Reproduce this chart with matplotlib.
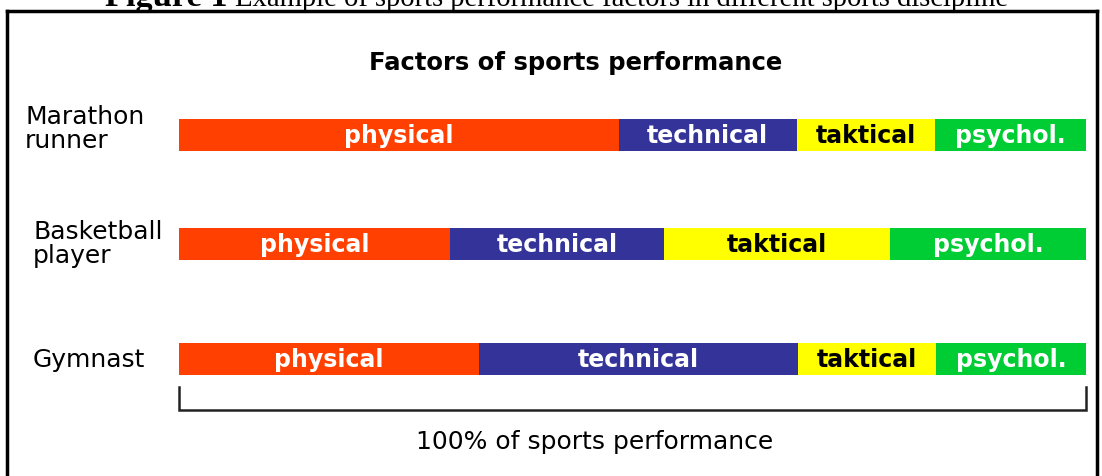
import matplotlib
matplotlib.use("Agg")
import matplotlib.pyplot as plt
from matplotlib.lines import Line2D
import numpy as np

# data (share of performance, %)
sports = ["Marathon\nrunner", "Basketball\nplayer", "Gymnast"]
factors = ["physical", "technical", "taktical", "psychol."]
physical = [48.5, 29.9, 33.1]
technical = [19.6, 23.6, 35.1]
taktical = [15.3, 24.9, 15.3]
psychol = [16.6, 21.6, 16.5]

colors = ["#FF4000", "#333399", "#FFFF00", "#00CC33"]
text_colors = ["white", "white", "black", "white"]

W, H = 1102, 477
fig = plt.figure(figsize=(W / 100, H / 100), dpi=100)
fig.patch.set_facecolor("white")

# axes: x in percent, y in pixel rows of the figure
ax = fig.add_axes([179 / W, 0, 907 / W, 1])
ax.set_xlim(0, 100)
ax.set_ylim(H, 0)
ax.axis("off")

row_y = [136, 245, 360]
bar_h = 32
values = np.array([physical, technical, taktical, psychol])
left = np.zeros(len(sports))
for i, name in enumerate(factors):
    ax.barh(row_y, values[i], left=left, height=bar_h, color=colors[i], linewidth=0)
    for y, l, v in zip(row_y, left, values[i]):
        ax.text(l + v / 2, y, name, ha="center", va="center", fontsize=17,
                fontweight="bold", color=text_colors[i])
    left = left + values[i]

# row labels
label_x = [25, 33, 33]
label_y = [129, 244, 360]
for name, x, y in zip(sports, label_x, label_y):
    fig.text(x / W, 1 - y / H, name, ha="left", va="center", fontsize=18,
             linespacing=1.0)

# title
fig.text(576 / W, 1 - 63 / H, "Factors of sports performance", ha="center",
         va="center", fontsize=17.5, fontweight="bold")

# bracket under the bars = 100%
ax.plot([0, 0, 100, 100], [388, 411, 411, 388], color="#222222", lw=1.8,
        solid_joinstyle="miter", clip_on=False)
fig.text(595 / W, 1 - 442 / H, "100% of sports performance", ha="center",
         va="center", fontsize=18)

# outer frame of the figure box
for xs, ys in [([7, 7], [12, H]), ([7, 1097], [12, 12]), ([1097, 1097], [12, H])]:
    fig.add_artist(Line2D([x / W for x in xs], [1 - y / H for y in ys],
                          color="black", lw=2.5))

# caption, cut off at the top edge as in the scan; sized to fit its span
renderer = fig.canvas.get_renderer()
def fit_text(x0, x1, s, **kw):
    t = fig.text(x0 / W, 1 - 6 / H, s, ha="left", va="baseline", fontsize=20,
                 family="Liberation Serif", **kw)
    w = t.get_window_extent(renderer).width
    t.set_fontsize(20 * (x1 - x0) / w)
    return t

fit_text(105, 228, "Figure 1", fontweight="bold")
fit_text(235, 1010, "Example of sports performance factors in different sports discipline")

fig.savefig("out.png", dpi=100)
